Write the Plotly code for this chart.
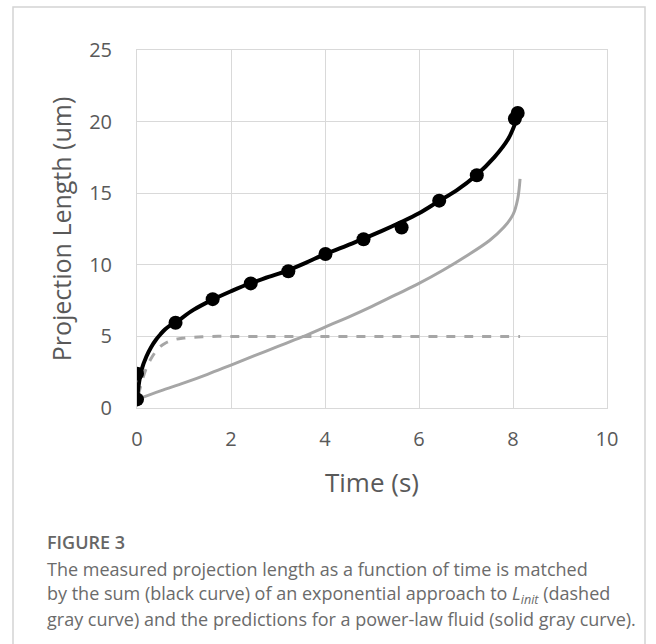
import plotly.graph_objects as go

# Measured data (black points)
meas_t = [0.0, 0.0, 0.82, 1.61, 2.42, 3.22, 4.01, 4.82, 5.63, 6.43, 7.23, 8.04, 8.10]
meas_L = [0.6, 2.4, 5.95, 7.6, 8.7, 9.55, 10.75, 11.78, 12.6, 14.48, 16.25, 20.2, 20.6]

# Sum curve (black)
sum_t = [0.0, 0.05, 0.1, 0.2, 0.3, 0.4, 0.5, 0.6, 0.7, 0.83, 1.2, 1.6, 2.0, 2.4, 2.8, 3.2, 3.6,
         4.0, 4.4, 4.8, 5.2, 5.6, 6.0, 6.4, 6.8, 7.2, 7.6, 7.9, 8.05, 8.12, 8.15]
sum_L = [0.6, 1.9, 2.7, 3.6, 4.25, 4.75, 5.15, 5.5, 5.75, 6.0, 6.85, 7.55, 8.15, 8.7, 9.15, 9.6, 10.15,
         10.75, 11.25, 11.8, 12.35, 12.95, 13.6, 14.4, 15.2, 16.2, 17.5, 18.8, 19.9, 20.6, 21.0]

# Exponential approach to L_init (dashed gray)
exp_t = [0.03, 0.1, 0.2, 0.3, 0.4, 0.5, 0.6, 0.8, 1.0, 1.3, 1.6, 2.0, 3.0, 4.0, 5.0, 6.0, 7.0, 8.15]
exp_L = [0.9, 1.8, 2.8, 3.45, 3.95, 4.3, 4.52, 4.78, 4.88, 4.95, 5.0, 5.0, 5.0, 5.0, 5.0, 5.0, 5.0, 5.0]

# Power-law fluid prediction (solid gray)
pow_t = [0.0, 0.5, 1.0, 1.5, 2.0, 2.5, 3.0, 3.5, 4.0, 4.5, 5.0, 5.5, 6.0, 6.5, 7.0, 7.5,
         7.8, 8.0, 8.1, 8.15]
pow_L = [0.6, 1.2, 1.75, 2.35, 3.0, 3.65, 4.3, 4.95, 5.65, 6.35, 7.1, 7.9, 8.7, 9.6, 10.6,
         11.7, 12.6, 13.5, 14.6, 16.0]

x_ticks = [0, 2, 4, 6, 8, 10]
y_ticks = [0, 5, 10, 15, 20, 25]

GRAY = "#a6a6a6"
GRID = "#d9d9d9"
TXT = "#595959"

fig = go.Figure()
fig.add_trace(go.Scatter(x=exp_t, y=exp_L, mode="lines",
                         line=dict(color=GRAY, width=3, dash="dash", shape="spline"),
                         hoverinfo="skip"))
fig.add_trace(go.Scatter(x=pow_t, y=pow_L, mode="lines",
                         line=dict(color=GRAY, width=3, shape="spline"),
                         hoverinfo="skip"))
fig.add_trace(go.Scatter(x=sum_t, y=sum_L, mode="lines",
                         line=dict(color="black", width=4, shape="spline"),
                         hoverinfo="skip"))
fig.add_trace(go.Scatter(x=meas_t, y=meas_L, mode="markers",
                         marker=dict(color="black", size=14),
                         hoverinfo="skip"))

W, H = 656, 644
L, R, T, B = 137, 49, 50, 236
pw, ph = W - L - R, H - T - B

def px_x(px):
    return (px - L) / pw

def px_y(py):
    return (H - B - py) / ph

fig.update_layout(
    width=W, height=H,
    margin=dict(l=L, r=R, t=T, b=B),
    paper_bgcolor="white", plot_bgcolor="white",
    showlegend=False,
    font=dict(family="Open Sans", color=TXT),
    xaxis=dict(range=[0, 10], tickvals=x_ticks, showgrid=True, gridcolor=GRID, gridwidth=1,
               zeroline=False, showline=True, linecolor=GRID, mirror=True,
               tickfont=dict(size=20, color=TXT), ticks="", ticklabelstandoff=13,
               title=dict(text="Time (s)", font=dict(size=26, color=TXT), standoff=22)),
    yaxis=dict(range=[0, 25], tickvals=y_ticks, showgrid=True, gridcolor=GRID, gridwidth=1,
               zeroline=False, showline=True, linecolor=GRID, mirror=True,
               tickfont=dict(size=20, color=TXT), ticks="", ticklabelstandoff=20,
               title=dict(text="Projection Length (um)", font=dict(size=25, color=TXT), standoff=10)),
    shapes=[dict(type="rect", xref="paper", yref="paper",
                 x0=px_x(13), x1=px_x(645), y0=px_y(670), y1=px_y(7),
                 line=dict(color="#d4d4d4", width=1.5), fillcolor="rgba(0,0,0,0)", layer="below")],
)

CAP = "#6b6b6b"
fig.add_annotation(xref="paper", yref="paper", x=px_x(45), y=px_y(542), xanchor="left", yanchor="middle",
                   text="FIGURE 3", showarrow=False,
                   font=dict(family="Open Sans", size=18, color="#666666", weight=600))
lines = [
    "The measured projection length as a function of time is matched",
    "by the sum (black curve) of an exponential approach to <i>L<sub>init</sub></i> (dashed",
    "gray curve) and the predictions for a power-law fluid (solid gray curve).",
]
for i, s in enumerate(lines):
    fig.add_annotation(xref="paper", yref="paper", x=px_x(45), y=px_y(569 + 25 * i),
                       xanchor="left", yanchor="middle", text=s, showarrow=False,
                       font=dict(family="Open Sans", size=18, color=CAP))

fig.write_html("out.html")
